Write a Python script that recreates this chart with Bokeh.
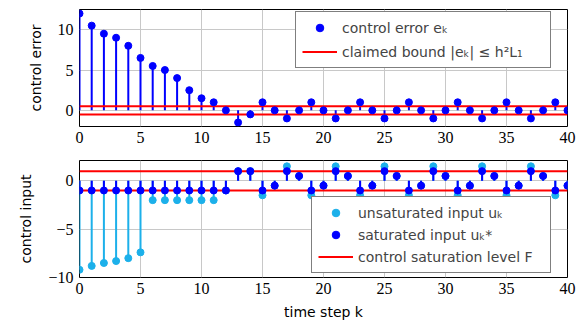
from bokeh.plotting import figure
from bokeh.layouts import column
from bokeh.models import Range1d, FixedTicker, Legend, LegendItem
from bokeh.embed import file_html
from bokeh.resources import INLINE

# ---------------- data ----------------
k = list(range(41))
error = [12, 10.5, 9.5, 9, 8, 6.5, 5.5, 5, 4, 2.5, 1.5, 1, 0, -1.5, -0.5,
         1, 0, -1, 0, 1, 0, -1, 0, 1, 0, -1, 0, 1, 0, -1, 0,
         1, 0, -1, 0, 1, 0, -1, 0, 1, 0]
bound = 0.5
u_unsat = [-9.2, -8.8, -8.5, -8.3, -8.0, -7.4, -2, -2, -2, -2, -2, -2, -1, 1, 1,
           -1.5, -0.5, 1.5, 0.5, -1.5, -0.5, 1.5, 0.5, -1.5, -0.5, 1.5, 0.5,
           -1.5, -0.5, 1.5, 0.5, -1.5, -0.5, 1.5, 0.5, -1.5, -0.5, 1.5, 0.5,
           -1.5, -0.5]
saturation = 1.0
u_sat = [max(-saturation, min(saturation, v)) for v in u_unsat]

x_ticks = [0, 5, 10, 15, 20, 25, 30, 35, 40]
y_ticks_top = [0, 5, 10]
y_ticks_bot = [-10, -5, 0]
y_labels_bot = {-10: "\u221210", -5: "\u22125", 0: "0"}

BLUE = "#0000ff"
CYAN = "#1cb0ea"
RED = "#ff0000"
SANS = "DejaVu Sans"
SERIF = "Liberation Serif"


def style(p):
    p.outline_line_color = "black"
    p.outline_line_width = 1
    p.outline_line_alpha = 1
    p.background_fill_color = "white"
    p.border_fill_color = "white"
    for ax in (p.xaxis[0], p.yaxis[0]):
        ax.axis_line_color = None
        ax.major_tick_in = 0
        ax.major_tick_out = 0
        ax.minor_tick_line_color = None
        ax.major_label_text_font = SERIF
        ax.major_label_text_font_size = "16px"
        ax.major_label_text_color = "black"
        ax.axis_label_text_font = SANS
        ax.axis_label_text_font_size = "14px"
        ax.axis_label_text_font_style = "normal"
        ax.axis_label_text_color = "black"
    p.xaxis[0].major_label_standoff = 5
    p.yaxis[0].major_label_standoff = 6
    p.yaxis[0].axis_label_standoff = 11
    p.xaxis[0].axis_label_standoff = 7
    p.xgrid.grid_line_color = "#c8c8c8"
    p.ygrid.grid_line_color = "#c8c8c8"
    p.xaxis.ticker = FixedTicker(ticks=x_ticks)


def legend_style(lg, label_width):
    lg.border_line_color = "black"
    lg.border_line_width = 1
    lg.background_fill_alpha = 1
    lg.label_text_font = SANS
    lg.label_text_font_size = "14px"
    lg.glyph_width = 35
    lg.glyph_height = 19
    lg.label_height = 19
    lg.label_width = label_width
    lg.label_standoff = 5
    lg.padding = 6
    lg.margin = 0


# ---------------- top figure ----------------
p1 = figure(frame_width=488, frame_height=117, output_backend="svg",
            toolbar_location=None, x_range=Range1d(0, 40), y_range=Range1d(-2, 12.5),
            min_border_left=79, min_border_right=10, min_border_top=9, min_border_bottom=24)
style(p1)
p1.yaxis.ticker = FixedTicker(ticks=y_ticks_top)
p1.yaxis.axis_label = "control error"

p1.segment(x0=k, y0=[0] * len(k), x1=k, y1=error, line_color=BLUE, line_width=2)
r_b1 = p1.line(x=[k[0], k[-1]], y=[bound, bound], line_color=RED, line_width=2)
p1.line(x=[k[0], k[-1]], y=[-bound, -bound], line_color=RED, line_width=2)
r_e = p1.scatter(x=k, y=error, size=7, fill_color=BLUE, line_color=BLUE)

lg1 = Legend(items=[LegendItem(label="control error e\u2096", renderers=[r_e]),
                    LegendItem(label="claimed bound |e\u2096| \u2264 h\u00b2L\u2081", renderers=[r_b1])],
             location=(216, 58), spacing=5)
legend_style(lg1, 202)
p1.add_layout(lg1, "center")

# ---------------- bottom figure ----------------
p2 = figure(frame_width=488, frame_height=117, output_backend="svg",
            toolbar_location=None, x_range=Range1d(0, 40), y_range=Range1d(-10, 2.1),
            min_border_left=79, min_border_right=10, min_border_top=10, min_border_bottom=46)
style(p2)
p2.yaxis.ticker = FixedTicker(ticks=y_ticks_bot)
p2.yaxis.major_label_overrides = y_labels_bot
p2.yaxis.axis_label = "control input"
p2.xaxis.axis_label = "time step k"

p2.segment(x0=k, y0=[0] * len(k), x1=k, y1=u_unsat, line_color=CYAN, line_width=2)
r_us = p2.scatter(x=k, y=u_unsat, size=7, fill_color=CYAN, line_color=CYAN)
p2.segment(x0=k, y0=[0] * len(k), x1=k, y1=u_sat, line_color=BLUE, line_width=2)
r_s1 = p2.line(x=[k[0], k[-1]], y=[saturation, saturation], line_color=RED, line_width=2)
p2.line(x=[k[0], k[-1]], y=[-saturation, -saturation], line_color=RED, line_width=2)
r_s = p2.scatter(x=k, y=u_sat, size=7, fill_color=BLUE, line_color=BLUE)

lg2 = Legend(items=[LegendItem(label="unsaturated input u\u2096", renderers=[r_us]),
                    LegendItem(label="saturated input u\u2096*", renderers=[r_s]),
                    LegendItem(label="control saturation level F", renderers=[r_s1])],
             location=(232, 4), spacing=3)
legend_style(lg2, 186)
p2.add_layout(lg2, "center")

layout = column(p1, p2, spacing=0)
open("out.html", "w").write(file_html(layout, INLINE))
